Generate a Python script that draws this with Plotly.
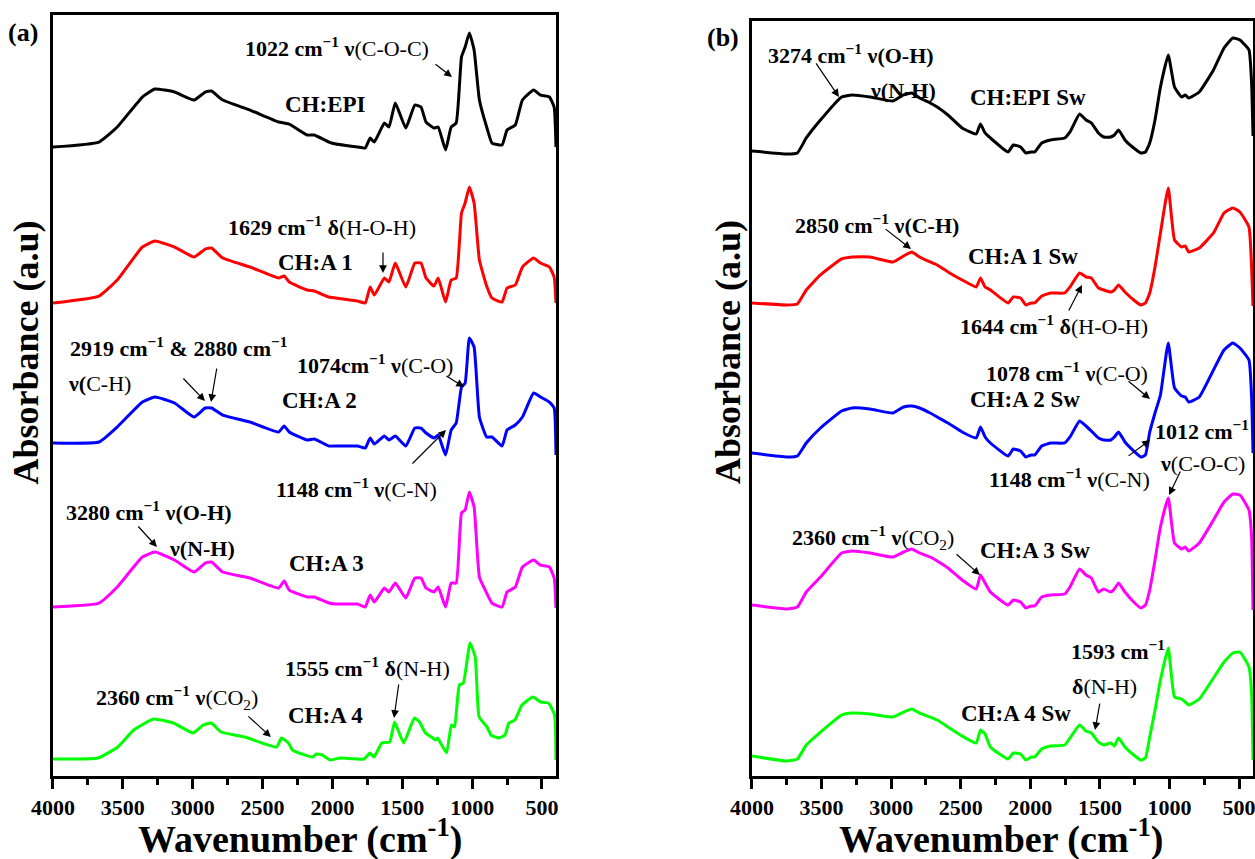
import plotly.graph_objects as go

# ---------------- data (wavenumber in cm^-1, absorbance in arbitrary stacked units) -------------
WN_A = [4000, 3670, 3540, 3360, 3270, 3130, 2990, 2910, 2865, 2785, 2590, 2385, 2345, 2309, 2180,
        2130, 2025, 1975, 1820, 1765, 1730, 1700, 1628, 1595, 1550, 1475, 1410, 1366, 1330, 1273,
        1243, 1190, 1150, 1114, 1076, 1050, 1020, 986, 948, 896, 858, 786, 750, 691, 640, 560,
        511, 447, 413, 400]
EPI_A = [629, 634, 649, 679, 687, 684, 676, 684, 685, 676, 666, 654, 653, 652, 641,
         641, 634, 632, 629, 628, 638, 634, 653, 649, 673, 648, 671, 669, 654, 648,
         649, 626, 649, 653, 719, 729, 743, 726, 676, 649, 633, 631, 646, 651, 676, 686,
         681, 679, 669, 629]
A1_A = [473, 480, 496, 529, 535, 529, 519, 527, 528, 518, 509, 498, 500, 494, 486,
        485, 479, 478, 475, 473, 489, 481, 498, 494, 513, 489, 513, 513, 498, 490,
        498, 474, 496, 498, 563, 573, 589, 573, 516, 490, 478, 474, 488, 491, 509, 518,
        513, 509, 499, 473]
A2_A = [333, 334, 349, 374, 379, 373, 359, 368, 368, 361, 354, 344, 350, 344, 336,
        337, 330, 330, 330, 328, 338, 332, 340, 336, 340, 330, 348, 348, 343, 338,
        341, 321, 346, 353, 389, 393, 438, 429, 359, 339, 339, 330, 346, 351, 359, 383,
        379, 374, 368, 321]
A3_A = [169, 173, 189, 219, 224, 216, 204, 213, 214, 204, 198, 188, 195, 186, 179,
        179, 173, 172, 172, 169, 181, 174, 188, 184, 193, 178, 198, 198, 188, 184,
        189, 169, 193, 193, 263, 266, 284, 269, 199, 183, 173, 169, 184, 189, 209, 216,
        211, 209, 198, 168]
WN_A4 = [4000, 3678, 3536, 3422, 3280, 3138, 2996, 2925, 2868, 2797, 2626, 2399, 2365, 2314, 2286,
         2143, 2115, 2073, 2016, 1945, 1774, 1731, 1703, 1646, 1590, 1555, 1490, 1413, 1376, 1334,
         1291, 1262, 1248, 1183, 1149, 1126, 1092, 1063, 1015, 978, 950, 893, 865, 808, 765,
         737, 694, 643, 566, 510, 453, 410, 400]
A4_A = [17, 18, 29, 46, 57, 53, 43, 51, 53, 44, 39, 29, 38, 33, 26,
        19, 22, 21, 16, 18, 17, 23, 19, 33, 34, 54, 33, 58, 54, 43,
        39, 36, 38, 23, 51, 49, 91, 93, 133, 119, 59, 49, 41, 38, 41,
        53, 56, 71, 79, 74, 73, 61, 16]

WN_B = [4000, 3750, 3674, 3610, 3508, 3356, 3280, 3152, 2987, 2911, 2852, 2796, 2720, 2669, 2592,
        2490, 2389, 2358, 2325, 2287, 2160, 2122, 2070, 2032, 1994, 1969, 1918, 1855, 1753, 1715,
        1646, 1600, 1562, 1511, 1473, 1422, 1396, 1366, 1320, 1257, 1206, 1173, 1142, 1104, 1065,
        1009, 964, 913, 887, 862, 786, 684, 608, 545, 494, 429, 410, 400]
EPI_B = [625, 622, 623, 638, 656, 679, 681, 679, 675, 681, 683, 678, 673, 669, 661,
         648, 642, 652, 643, 638, 624, 631, 629, 623, 624, 624, 633, 636, 638, 644,
         662, 656, 653, 643, 639, 639, 641, 646, 636, 628, 623, 624, 633, 656, 689,
         721, 689, 679, 681, 678, 684, 706, 728, 738, 736, 726, 693, 640]
A1_B = [473, 471, 472, 486, 501, 517, 519, 519, 514, 520, 524, 519, 514, 511, 504,
        496, 489, 498, 489, 486, 473, 479, 478, 471, 473, 473, 480, 483, 483, 489,
        503, 499, 498, 488, 486, 484, 486, 491, 484, 476, 471, 473, 483, 509, 543,
        588, 536, 529, 530, 524, 528, 543, 563, 568, 564, 549, 509, 470]
A2_B = [323, 319, 320, 333, 348, 365, 368, 367, 363, 369, 370, 368, 363, 359, 353,
        344, 338, 349, 339, 333, 320, 327, 325, 319, 321, 321, 330, 333, 333, 339,
        355, 350, 345, 338, 336, 336, 339, 344, 334, 325, 319, 321, 344, 363, 381,
        433, 388, 380, 379, 374, 379, 406, 426, 433, 428, 416, 379, 323]
A3_B = [171, 167, 169, 184, 199, 223, 225, 223, 219, 224, 227, 223, 219, 215, 208,
        196, 187, 201, 193, 184, 171, 176, 174, 168, 170, 170, 179, 181, 182, 189,
        207, 201, 198, 184, 187, 184, 187, 193, 184, 174, 168, 171, 186, 216, 249,
        278, 233, 227, 229, 225, 233, 256, 274, 282, 281, 266, 239, 166]
A4_B = [20, 15, 17, 31, 44, 61, 63, 62, 59, 64, 67, 63, 59, 56, 49,
        40, 33, 46, 42, 29, 17, 23, 22, 16, 19, 19, 27, 30, 31, 38,
        51, 45, 43, 34, 31, 33, 30, 38, 29, 21, 16, 18, 39, 66, 96,
        128, 79, 77, 74, 71, 77, 98, 114, 123, 124, 109, 83, 16]

COLORS = ["#000000", "#FF0000", "#0000FF", "#FF00FF", "#00FF00"]
X_TICKS = [4000, 3500, 3000, 2500, 2000, 1500, 1000, 500]
X_MINOR = [3750, 3250, 2750, 2250, 1750, 1250, 750]

SERIES_A = [(WN_A, EPI_A), (WN_A, A1_A), (WN_A, A2_A), (WN_A, A3_A), (WN_A4, A4_A)]
SERIES_B = [(WN_B, EPI_B), (WN_B, A1_B), (WN_B, A2_B), (WN_B, A3_B), (WN_B, A4_B)]
NAMES_A = ["CH:EPI", "CH:A 1", "CH:A 2", "CH:A 3", "CH:A 4"]
NAMES_B = ["CH:EPI Sw", "CH:A 1 Sw", "CH:A 2 Sw", "CH:A 3 Sw", "CH:A 4 Sw"]

FONT = "Liberation Serif"

fig = go.Figure()
for (wn, val), col, nm in zip(SERIES_A, COLORS, NAMES_A):
    fig.add_trace(go.Scatter(x=wn, y=val, mode="lines", name=nm, xaxis="x", yaxis="y",
                             line=dict(color=col, width=3, shape="spline", smoothing=0.4),
                             showlegend=False))
for (wn, val), col, nm in zip(SERIES_B, COLORS, NAMES_B):
    fig.add_trace(go.Scatter(x=wn, y=val, mode="lines", name=nm, xaxis="x2", yaxis="y2",
                             line=dict(color=col, width=3, shape="spline", smoothing=0.4),
                             showlegend=False))

def xaxis_style(domain, anchor):
    return dict(domain=domain, anchor=anchor, range=[4000, 400], tickmode="array",
                tickvals=X_TICKS, ticks="outside", ticklen=10, tickwidth=2.5, tickcolor="black",
                minor=dict(tickmode="array", tickvals=X_MINOR,
                           ticks="outside", ticklen=6, tickwidth=2.5, tickcolor="black"),
                showline=True, linewidth=3, linecolor="black", mirror=True,
                showgrid=False, zeroline=False, automargin=False, ticklabeloverflow="allow",
                tickfont=dict(family=FONT, size=22, color="black", weight="bold"))

def yaxis_style(domain, anchor, top):
    return dict(domain=domain, anchor=anchor, range=[0, top], showticklabels=False, ticks="",
                showline=True, linewidth=3, linecolor="black", mirror=True,
                showgrid=False, zeroline=False, automargin=False)

fig.update_layout(
    width=1255, height=859, margin=dict(l=0, r=0, t=0, b=0, autoexpand=False),
    paper_bgcolor="white", plot_bgcolor="white",
    xaxis=xaxis_style([0.0422, 0.4430], "y"),
    yaxis=yaxis_style([0.0966, 0.9825], "x", 761),
    xaxis2=xaxis_style([0.5992, 0.9984], "y2"),
    yaxis2=yaxis_style([0.0966, 0.9756], "x2", 755),
)

annos = []

def txt(ax, text, x, y, size=22):
    annos.append(dict(xref=ax[0], yref=ax[1], x=x, y=y, text=text, showarrow=False,
                      xanchor="center", yanchor="middle",
                      font=dict(family=FONT, size=size, color="black")))

def arrow(ax, xt, yt, xh, yh):
    annos.append(dict(xref=ax[0], yref=ax[1], axref=ax[0], ayref=ax[1], x=xh, y=yh, ax=xt, ay=yt,
                      text="", showarrow=True, arrowhead=2, arrowsize=1.3, arrowwidth=1.2,
                      arrowcolor="black", standoff=0, startstandoff=0))

A = ("x", "y")
B = ("x2", "y2")
SUP = "<sup>−1</sup>"

# panel (a)
txt(A, f"<b>1022 cm{SUP} ν</b>(C-O-C)", 1967, 729)
arrow(A, 1273, 713, 1144, 699)
txt(A, "<b>CH:EPI</b>", 2046, 672, 23)
txt(A, f"<b>1629 cm{SUP} δ</b>(H-O-H)", 2075, 550)
arrow(A, 1638, 525, 1638, 503)
txt(A, "<b>CH:A 1</b>", 2118, 514, 23)
txt(A, f"<b>2919 cm{SUP} &amp; 2880 cm{SUP}</b>", 3105, 429)
txt(A, "<b>ν(</b>C-H)", 3664, 393)
arrow(A, 3077, 399, 2912, 375)
arrow(A, 2826, 409, 2869, 374)
txt(A, f"<b>1074cm{SUP} ν</b>(C-O)", 1695, 412)
arrow(A, 1194, 401, 1058, 389)
txt(A, "<b>CH:A 2</b>", 2089, 376, 23)
txt(A, f"<b>1148 cm{SUP} ν</b>(C-N)", 1831, 288)
arrow(A, 1438, 311, 1187, 346)
txt(A, f"<b>3280 cm{SUP} ν(O-H)</b>", 3313, 265)
txt(A, "<b>ν(N-H)</b>", 2934, 228)
arrow(A, 3399, 251, 3256, 229)
txt(A, "<b>CH:A 3</b>", 2039, 213, 23)
txt(A, f"<b>1555 cm{SUP} δ</b>(N-H)", 1746, 109)
arrow(A, 1524, 93, 1559, 58)
txt(A, f"<b>2360 cm{SUP} ν</b>(CO<sub>2</sub>)", 3113, 79)
arrow(A, 2612, 61, 2440, 39)
txt(A, "<b>CH:A 4</b>", 2046, 61, 23)

# panel (b)
txt(B, f"<b>3274 cm{SUP} ν(O-H)</b>", 3289, 722)
arrow(B, 3547, 714, 3375, 679)
txt(B, "<b>ν(N-H)</b>", 2915, 685)
txt(B, "<b>CH:EPI Sw</b>", 2017, 678, 23)
txt(B, f"<b>2850 cm{SUP} ν(C-H)</b>", 3102, 552)
arrow(B, 3051, 548, 2857, 527)
txt(B, "<b>CH:A 1 Sw</b>", 2053, 519, 23)
txt(B, f"<b>1644 cm{SUP} δ</b>(H-O-H)", 1830, 451)
arrow(B, 1729, 464, 1629, 491)
txt(B, f"<b>1078 cm{SUP} ν</b>(C-O)", 1736, 404)
arrow(B, 1305, 396, 1140, 377)
txt(B, "<b>CH:A 2 Sw</b>", 2038, 376, 23)
txt(B, f"<b>1012 cm{SUP}</b>", 766, 346)
txt(B, "<b>ν</b>(C-O-C)", 766, 312)
arrow(B, 917, 306, 1003, 281)
txt(B, f"<b>1148 cm{SUP} ν</b>(C-N)", 1722, 298)
arrow(B, 1305, 319, 1140, 336)
txt(B, f"<b>2360 cm{SUP} ν</b>(CO<sub>2</sub>)", 3130, 238)
arrow(B, 2541, 223, 2362, 201)
txt(B, "<b>CH:A 3 Sw</b>", 1966, 225, 23)
txt(B, f"<b>1593 cm{SUP}</b>", 1370, 126)
txt(B, "<b>δ</b>(N-H)", 1470, 90)
arrow(B, 1499, 74, 1535, 46)
txt(B, "<b>CH:A 4 Sw</b>", 2103, 63, 23)

# axis titles and panel labels (paper coordinates)
def ptxt(text, x, y, size, angle=0):
    annos.append(dict(xref="paper", yref="paper", x=x, y=y, text=text, showarrow=False,
                      xanchor="center", yanchor="middle", textangle=angle,
                      font=dict(family=FONT, size=size, color="black")))

ptxt("<b>Wavenumber (cm<sup>-1</sup>)</b>", 0.239, 0.026, 38)
ptxt("<b>Wavenumber (cm<sup>-1</sup>)</b>", 0.798, 0.026, 38)
ptxt("<b>Absorbance (a.u)</b>", 0.021, 0.590, 36, -90)
ptxt("<b>Absorbance (a.u)</b>", 0.580, 0.590, 36, -90)
ptxt("<b>(a)</b>", 0.0183, 0.9616, 26)
ptxt("<b>(b)</b>", 0.5761, 0.9558, 26)

fig.update_layout(annotations=annos)

fig.write_html("out.html", config={"displayModeBar": False},
               post_script="document.body.style.margin='0';")
